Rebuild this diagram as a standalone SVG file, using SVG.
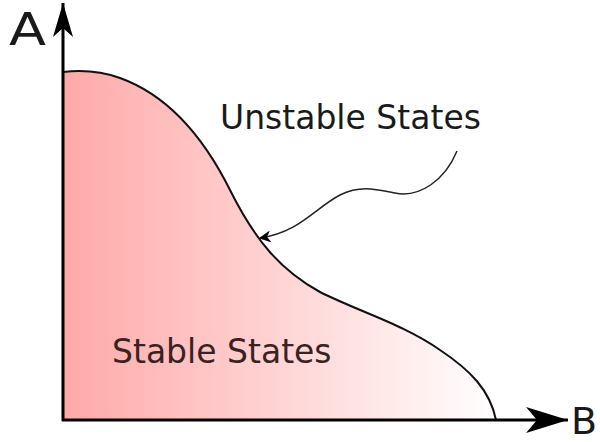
<svg xmlns="http://www.w3.org/2000/svg" width="600" height="442" viewBox="0 0 600 442">
<style>
.lbl{font-family:"DejaVu Sans","Liberation Sans",sans-serif;fill:#1a1a1a}
.ax{stroke:#000;stroke-width:3;fill:none}
</style>
<defs>
<linearGradient id="g" x1="63" y1="0" x2="497" y2="0" gradientUnits="userSpaceOnUse">
<stop offset="0" stop-color="#ffa9a9"/>
<stop offset="1" stop-color="#ffffff"/>
</linearGradient>
<marker id="ah" viewBox="0 0 10 10" refX="9" refY="5" markerWidth="12" markerHeight="12" markerUnits="userSpaceOnUse" orient="auto">
<path d="M0,0 L10,5 L0,10 L3,5 Z" fill="#000"/>
</marker>
<marker id="bigy" viewBox="0 0 34 20" refX="34" refY="10" markerWidth="34" markerHeight="20" markerUnits="userSpaceOnUse" orient="auto">
<path d="M0,0 L34,10 L0,20 L9,10 Z" fill="#000"/>
</marker>
<marker id="bigx" viewBox="0 0 42 26" refX="42" refY="13" markerWidth="42" markerHeight="26" markerUnits="userSpaceOnUse" orient="auto">
<path d="M0,0 L42,13 L0,26 L11,13 Z" fill="#000"/>
</marker>
</defs>
<g id="region">
<path d="M63,420 L63,72 C80,70 98,70 120,78 C170,96 205,140 230,190 C255,240 280,270 320,292 C360,312 405,325 440,350 C470,370 490,390 496,420 Z" fill="url(#g)" stroke="none"/>
<path d="M63,72 C80,70 98,70 120,78 C170,96 205,140 230,190 C255,240 280,270 320,292 C360,312 405,325 440,350 C470,370 490,390 496,420" fill="none" stroke="#111" stroke-width="2"/>
</g>
<g id="axes">
<path class="ax" d="M63,421 L63,3" marker-end="url(#bigy)"/>
<path class="ax" d="M62,420 L568,420" marker-end="url(#bigx)"/>
</g>
<g id="connectors">
<path d="M457,151 C445,180 420,198 395,193 C375,189 360,185 340,195 C315,208 300,232 260,238" fill="none" stroke="#222" stroke-width="1.5" marker-end="url(#ah)"/>
</g>
<g id="labels">
<text class="lbl" x="9" y="45" font-size="44" textLength="37" lengthAdjust="spacingAndGlyphs">A</text>
<text class="lbl" x="571" y="434" font-size="38">B</text>
<text class="lbl" x="220" y="129" font-size="33">Unstable States</text>
<text class="lbl" x="112" y="363" font-size="33" style="fill:#3a2222">Stable States</text>
</g>
</svg>
